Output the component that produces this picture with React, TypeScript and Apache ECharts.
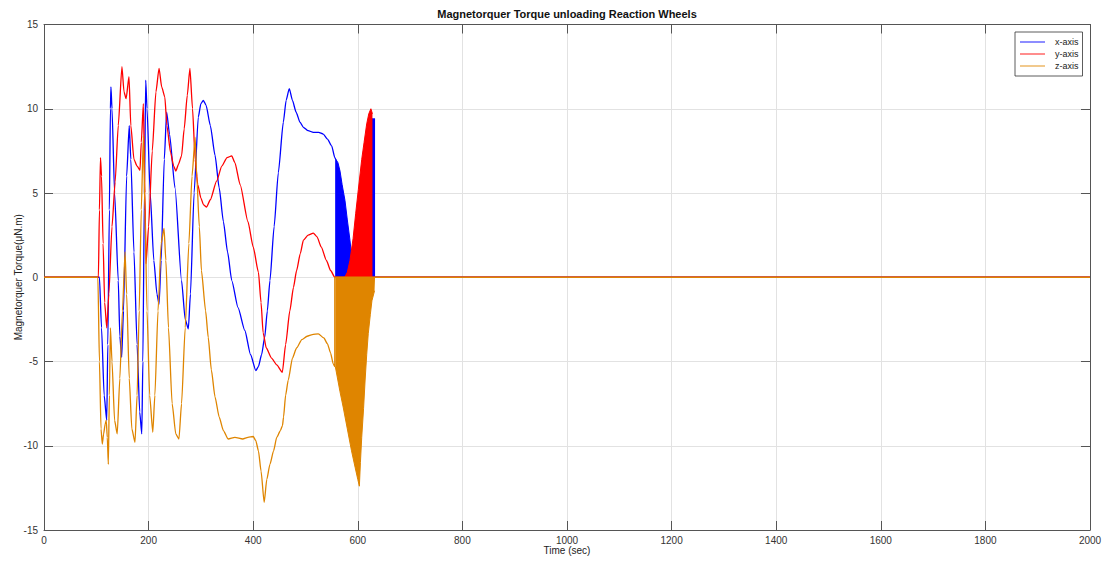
import React, { useEffect, useRef } from "react";
import * as echarts from "echarts";

const chartTitle = "Magnetorquer Torque unloading Reaction Wheels";
const xName = "Time (sec)";
const yName = "Magnetorquer Torque(μN.m)";
const seriesNames = ["x-axis", "y-axis", "z-axis"];
const seriesColors = ["#0000ff", "#ff0000", "#df8500"];

// x-axis torque (smooth part), [time s, torque µN.m]
const xTorque: [number, number][] = [
  [0, 0], [100, 0], [106, 0], [110, -3], [115, -7], [120, -8.5], [122, -4], [125, 4], [127, 10], [128, 11.3],
  [130, 10], [135, 5], [142, -0.2], [145, -3.5], [148.5, -4.75], [152, -2], [158, 6], [163, 9.0],
  [166, 7], [172, 1.5], [178, -4], [183, -8], [187, -9.3], [189, -5], [192, 5], [194.5, 11.7],
  [197, 10], [203, 5], [210, 1], [216, -1], [220, -1.6], [224, 1], [230, 7], [234.5, 9.8], [240, 8.5],
  [250.5, 5.3], [263, -0.2], [270, -2.5], [276, -3.06], [280, -1], [287, 5], [295, 9.5], [300, 10.3],
  [304.6, 10.5], [310, 10.2], [318, 9], [327, 7.24], [335, 5.3], [343, 3.3], [351, 1.5], [359, -0.2],
  [371, -1.8], [384, -3.16], [395, -4.6], [405, -5.54], [410, -5.3], [416, -4.6], [422, -3.56],
  [427, -2], [432, -0.2], [440, 3], [448, 6.2], [457.6, 9.2], [463, 10.5], [469, 11.2], [475, 10.5],
  [482, 9.8], [489.5, 9.2], [496, 8.9], [505, 8.7], [515, 8.6], [525, 8.6], [534, 8.5], [542, 8.2],
  [550, 7.8], [556, 7.1], [558, 7.0], [558, 0], [562, 0], [640, 0], [2000, 0],
];
// x-axis torque, dense switching envelope
const xTorqueDense: [number, number][] = [
  [558, 7.0], [562, 6.8], [566, 6.3], [570, 5.5], [575.5, 4.55], [580, 3.4], [585, 2.2], [588, 1.3],
  [591, 0.6], [594, 0], [600, 0], [606, 2.5], [612, 5], [618, 7.2], [624, 8.8], [627, 9.4], [633, 9.4],
];

// y-axis torque (smooth part)
const yTorque: [number, number][] = [
  [0, 0], [99, 0], [104, 0], [106, 4], [108, 7.1], [110, 6], [113, 2], [116, -1.5], [120, -3], [124, -1],
  [130, 3], [136, 5.65], [142, 9], [149, 12.5], [153, 11], [157, 10.6], [162.5, 11.9], [166, 9],
  [172, 7], [178, 6.6], [183.5, 6.35], [186, 8], [190, 10.3], [193, 5], [195, 0.8], [200, 3],
  [207, 7.5], [214, 11], [220, 12.4], [225, 11.3], [231, 10.7], [235, 9], [242, 7.4], [248, 6.6],
  [252, 6.3], [257, 6.7], [263, 7.2], [268, 8.8], [274, 10.8], [279, 12.4], [284, 10], [289, 7],
  [294, 5.5], [300, 4.7], [305, 4.3], [311, 4.17], [318, 4.6], [330, 5.7], [340, 6.6], [350, 7.1],
  [359, 7.2], [365, 6.8], [375, 5.5], [390, 3.3], [400, 1.8], [410, 0.3], [415, -1.5], [419, -3.3],
  [425, -4.2], [435, -4.8], [445, -5.2], [455.7, -5.64], [462, -4], [470, -2], [477, -0.6], [483, 0.4],
  [490, 1.4], [496, 2.2], [505, 2.5], [515, 2.62], [522, 2.4], [530, 1.8], [540, 1.0], [548, 0.4],
  [556, 0], [560, 0], [640, 0], [2000, 0],
];
// y-axis torque, dense switching envelope
const yTorqueDense: [number, number][] = [
  [575, 0], [580, 0.3], [585, 1.0], [591, 2.3], [596, 3.8], [601, 5.2], [607.5, 7.0], [612, 8.0],
  [617, 9.1], [621, 9.7], [625, 10.0], [628, 9.7],
];

// z-axis torque (smooth part)
const zTorque: [number, number][] = [
  [0, 0], [98, 0], [103, 0], [106, -5], [109, -9], [111.5, -9.9], [114, -9.3], [117, -8.7], [119, -8.5],
  [121, -9.5], [123, -11.1], [125, -7], [127, -3.0], [130, -5], [135, -8.5], [140, -9.3], [145, -6],
  [150, -2], [155, 1.5], [158, -1], [163, -6], [168, -9], [174, -9.8], [178, -7], [182, -2], [186, 4],
  [190, 8.4], [193, 4], [197, -2], [202, -7], [208, -9.2], [212, -7], [218, -2], [224, 2], [229.5, 2.9],
  [233, 1], [238, -3], [245, -7.5], [252, -9.3], [258, -9.6], [263, -7.5], [270, -3], [277, 2],
  [283, 6], [289, 8.3], [292, 6], [297, 3], [301, 0.4], [309, -2], [314, -3.56], [320, -5.5],
  [327, -7.1], [335, -8.3], [343, -9.1], [352, -9.6], [365, -9.5], [380, -9.6], [390, -9.5],
  [400, -9.45], [405, -9.7], [410, -10.3], [415, -11.5], [421, -13.36], [426, -12], [432, -11.1],
  [439, -10.3], [445, -9.5], [452, -9.1], [456, -8.8], [458, -8.3], [462, -7], [467, -6.1], [475, -4.8],
  [483, -4.2], [493, -3.7], [503, -3.5], [513, -3.4], [524.5, -3.36], [535, -3.6], [542, -3.95],
  [548, -4.5], [553, -5.14], [556, -5.3], [556, 0], [560, 0], [640, 0], [2000, 0],
];
// z-axis torque, dense switching envelope
const zTorqueDense: [number, number][] = [
  [557, -5.3], [560, -5.8], [566, -6.8], [572, -7.7], [580, -9.0], [588, -10.3], [595, -11.3],
  [600, -12.0], [603, -12.4], [605, -11.0], [607.5, -9.5], [611, -7.8], [614, -6.1], [617, -4.6],
  [620, -3.35], [624, -2.2], [627, -1.4], [632, -0.8], [633, -0.8],
];

const FONT = "'Liberation Sans', Arial, sans-serif";
const LEGEND_LINE = "path://M0,0 L100,0 L100,6 L0,6 Z";

export default function App() {
  const ref = useRef<HTMLDivElement>(null);
  useEffect(() => {
    if (!ref.current) return;
    const chart = echarts.init(ref.current, undefined, { renderer: "svg" });
    const mainData = [xTorque, yTorque, zTorque];
    const denseData = [xTorqueDense, yTorqueDense, zTorqueDense];
    const series: any[] = [];
    for (let i = 0; i < 3; i++) {
      series.push({
        name: seriesNames[i],
        type: "line",
        data: mainData[i],
        symbol: "none",
        smooth: 0.2,
        smoothMonotone: "x",
        z: 2 + i * 2,
        lineStyle: { color: seriesColors[i], width: 1.3 },
        itemStyle: { color: seriesColors[i] },
      });
    }
    for (let i = 0; i < 3; i++) {
      series.push({
        name: seriesNames[i],
        type: "line",
        data: denseData[i],
        symbol: "none",
        z: 3 + i * 2,
        lineStyle: { color: seriesColors[i], width: 1 },
        itemStyle: { color: seriesColors[i] },
        areaStyle: { color: seriesColors[i], opacity: 1, origin: 0 },
      });
    }
    const axisCommonX = {
      type: "value",
      min: 0,
      max: 2000,
      interval: 200,
      axisLine: { show: true, onZero: false, lineStyle: { color: "#555", width: 1 } },
      axisTick: { show: true, inside: true, length: 9, lineStyle: { color: "#555" } },
    };
    const axisCommonY = {
      type: "value",
      min: -15,
      max: 15,
      interval: 5,
      axisLine: { show: true, onZero: false, lineStyle: { color: "#555", width: 1 } },
      axisTick: { show: true, inside: true, length: 9, lineStyle: { color: "#555" } },
    };
    chart.setOption({
      animation: false,
      backgroundColor: "#ffffff",
      textStyle: { fontFamily: FONT },
      title: {
        text: chartTitle,
        left: 567,
        top: 8,
        padding: 0,
        textAlign: "center",
        textStyle: { fontSize: 11, fontWeight: "bold", color: "#111", fontFamily: FONT },
      },
      legend: {
        data: seriesNames.map((n, i) => ({
          name: n,
          icon: LEGEND_LINE,
          itemStyle: { color: seriesColors[i], opacity: 0.6 },
        })),
        orient: "vertical",
        left: 1015,
        top: 32,
        padding: [5, 4, 5, 5],
        itemGap: 2,
        itemWidth: 29,
        itemHeight: 1.5,
        borderColor: "#333",
        borderWidth: 0.8,
        backgroundColor: "#fff",
        textStyle: { fontSize: 9, color: "#222", fontFamily: FONT, lineHeight: 10, padding: [0, 0, 0, 3] },
      },
      grid: { left: 44, right: 13, top: 24.5, bottom: 33, containLabel: false, outerBoundsMode: "none" },
      xAxis: [
        {
          ...axisCommonX,
          position: "bottom",
          name: xName,
          nameLocation: "middle",
          nameGap: 15,
          nameMoveOverlap: false,
          nameTextStyle: { fontSize: 10, color: "#222", fontFamily: FONT, verticalAlign: "top" },
          axisLabel: { fontSize: 10, color: "#333", margin: 5, fontFamily: FONT, formatter: (v: number) => String(v) },
          splitLine: { show: true, lineStyle: { color: "#e2e2e2", width: 1 } },
        },
        {
          ...axisCommonX,
          position: "top",
          axisLabel: { show: false },
          splitLine: { show: false },
        },
      ],
      yAxis: [
        {
          ...axisCommonY,
          position: "left",
          name: yName,
          nameLocation: "middle",
          nameGap: 21,
          nameMoveOverlap: false,
          nameTextStyle: { fontSize: 10, color: "#222", fontFamily: FONT },
          axisLabel: { fontSize: 10, color: "#333", margin: 6, fontFamily: FONT },
          splitLine: { show: true, lineStyle: { color: "#e2e2e2", width: 1 } },
        },
        {
          ...axisCommonY,
          position: "right",
          axisLabel: { show: false },
          splitLine: { show: false },
        },
      ],
      series,
    });
    return () => chart.dispose();
  }, []);
  return (
    <div
      ref={ref}
      style={{ position: "fixed", left: 0, top: 0, width: 1103, height: 563, background: "#fff" }}
    />
  );
}
